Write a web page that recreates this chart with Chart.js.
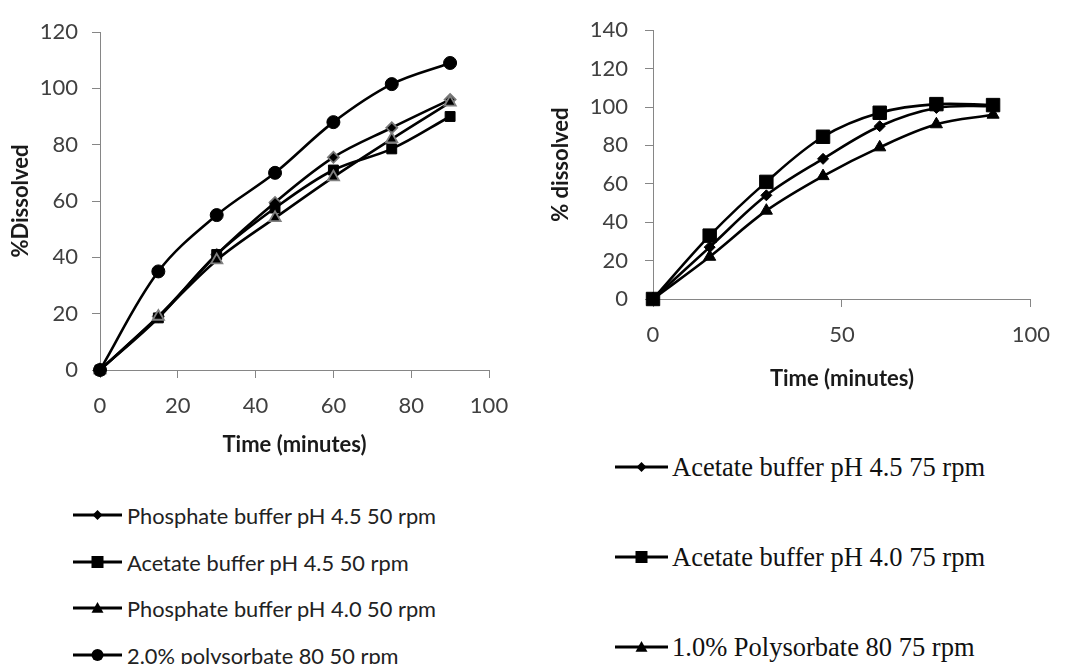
<!DOCTYPE html>
<html>
<head>
<meta charset="utf-8">
<script src="https://cdn.jsdelivr.net/npm/chart.js@4"></script>
<style>
  html, body { margin: 0; padding: 0; background: #fff; overflow: hidden; }
  body { width: 1065px; height: 664px; position: relative; }
  canvas.chart { position: absolute; }
  .legend { position: absolute; }
  .legend .row { position: absolute; white-space: nowrap; display: flex; align-items: center; }
  .legend svg { flex: none; }
  #legendLeft { font-family: Lato, "Open Sans", sans-serif; font-size: 21.8px; color: #222; }
  #legendRight { font-family: "Liberation Serif", "Times New Roman", serif; font-size: 26.5px; color: #111; }
</style>
</head>
<body>
<canvas id="leftChart" class="chart" width="530" height="460" style="left:0;top:0"></canvas>
<canvas id="rightChart" class="chart" width="525" height="400" style="left:540px;top:0"></canvas>
<div id="legendLeft" class="legend"></div>
<div id="legendRight" class="legend"></div>
<script>
// sampling times (minutes)
const times = [0, 15, 30, 45, 60, 75, 90];

// left panel: 50 rpm
const phosphate45At50 = [0, 19, 41, 59.5, 75.5, 86, 96];
const acetate45At50 = [0, 18.5, 41, 57.5, 71, 78.5, 90];
const phosphate40At50 = [0, 19, 39, 54, 68.5, 82, 95];
const polysorbate20At50 = [0, 35, 55, 70, 88, 101.5, 109];

// right panel: 75 rpm
const acetate45At75 = [0, 27, 54, 73, 90, 99.5, 100.5];
const acetate40At75 = [0, 33, 61, 84.5, 97, 101.5, 101];
const polysorbate10At75 = [0, 22, 46, 64, 79, 91, 96];

const leftLabels = ['Phosphate buffer pH 4.5 50 rpm', 'Acetate buffer pH 4.5 50 rpm',
    'Phosphate buffer pH 4.0 50 rpm', '2.0% polysorbate 80 50 rpm'];
const rightLabels = ['Acetate buffer pH 4.5 75 rpm', 'Acetate buffer pH 4.0 75 rpm',
    '1.0% Polysorbate 80 75 rpm'];

const axisGray = '#868686';
const tickColor = '#404040';

function toPoints(values) {
    return values.map((v, i) => ({ x: times[i], y: v }));
}

function makeSeries(label, values, style, radius, border, order) {
    return {
        label: label,
        data: toPoints(values),
        borderColor: '#000',
        borderWidth: 2.6,
        tension: 0.35,
        pointStyle: style,
        pointRadius: radius,
        pointBackgroundColor: '#000',
        pointBorderColor: border,
        pointBorderWidth: border === '#000' ? 1 : 1.8,
        fill: false,
        clip: false,
        order: order
    };
}

function axisOptions(min, max, step, title, titlePad, tickPad, size, fixed) {
    return {
        type: 'linear',
        min: min,
        max: max,
        ticks: { stepSize: step, color: tickColor, padding: tickPad, font: { family: 'Lato', size: size } },
        grid: { display: true, drawOnChartArea: false, drawTicks: true, tickLength: 8, color: axisGray, lineWidth: 1 },
        border: { display: true, color: axisGray, width: 1 },
        title: { display: true, text: title, color: '#1a1a1a', padding: titlePad, font: { family: 'Lato', size: 22, weight: 'bold' } },
        afterFit: fixed
    };
}

const leftChart = new Chart(document.getElementById('leftChart').getContext('2d'), {
    type: 'line',
    data: {
        datasets: [
            makeSeries(leftLabels[0], phosphate45At50, 'rectRot', 5.5, '#777', 3),
            makeSeries(leftLabels[1], acetate45At50, 'rect', 7, '#000', 2),
            makeSeries(leftLabels[2], phosphate40At50, 'triangle', 6.5, '#808080', 1),
            makeSeries(leftLabels[3], polysorbate20At50, 'circle', 6.5, '#000', 0)
        ]
    },
    options: {
        responsive: false,
        devicePixelRatio: 1,
        animation: false,
        layout: { padding: { left: 0, top: 32, right: 41, bottom: 0 } },
        plugins: { legend: { display: false }, tooltip: { enabled: false } },
        scales: {
            x: axisOptions(0, 100, 20, 'Time (minutes)', { top: 4, bottom: 2 }, 15, 22, s => { s.height = 90; }),
            y: axisOptions(0, 120, 20, '%Dissolved', { top: 8, bottom: 4 }, 14, 22, s => { s.width = 100; })
        }
    }
});

const rightChart = new Chart(document.getElementById('rightChart').getContext('2d'), {
    type: 'line',
    data: {
        datasets: [
            makeSeries(rightLabels[0], acetate45At75, 'rectRot', 5.5, '#000', 2),
            makeSeries(rightLabels[1], acetate40At75, 'rect', 9.5, '#000', 1),
            makeSeries(rightLabels[2], polysorbate10At75, 'triangle', 7, '#000', 0)
        ]
    },
    options: {
        responsive: false,
        devicePixelRatio: 1,
        animation: false,
        layout: { padding: { left: 0, top: 24, right: 23, bottom: 0 } },
        plugins: { legend: { display: false }, tooltip: { enabled: false } },
        scales: {
            x: axisOptions(0, 100, 50, 'Time (minutes)', { top: 4, bottom: 8 }, 15, 22, s => { s.height = 101; }),
            y: axisOptions(0, 140, 20, '% dissolved', { top: 8, bottom: 4 }, 17, 22, s => { s.width = 113; })
        }
    }
});

// legends drawn as html rows with a small line + marker glyph
function markerSvg(style, w, size) {
    const h = 20, cy = 10, cx = w / 2;
    let shape = '';
    if (style === 'rectRot') {
        shape = `<polygon points="${cx},${cy - size} ${cx + size},${cy} ${cx},${cy + size} ${cx - size},${cy}" fill="#000"/>`;
    } else if (style === 'rect') {
        shape = `<rect x="${cx - size}" y="${cy - size}" width="${2 * size}" height="${2 * size}" fill="#000"/>`;
    } else if (style === 'triangle') {
        shape = `<polygon points="${cx},${cy - size} ${cx + size},${cy + size * 0.8} ${cx - size},${cy + size * 0.8}" fill="#000"/>`;
    } else {
        shape = `<circle cx="${cx}" cy="${cy}" r="${size}" fill="#000"/>`;
    }
    return `<svg width="${w}" height="${h}"><line x1="0" y1="${cy}" x2="${w}" y2="${cy}" stroke="#000" stroke-width="3"/>${shape}</svg>`;
}

function buildLegend(id, labels, styles, sizes, left, rowsY, w, gap) {
    const box = document.getElementById(id);
    labels.forEach((label, i) => {
        const row = document.createElement('div');
        row.className = 'row';
        row.style.left = left + 'px';
        row.style.top = (rowsY[i] - 15) + 'px';
        row.style.height = '30px';
        row.innerHTML = markerSvg(styles[i], w, sizes[i]) + `<span style="margin-left:${gap}px">${label}</span>`;
        box.appendChild(row);
    });
}

buildLegend('legendLeft', leftLabels, ['rectRot', 'rect', 'triangle', 'circle'], [5, 6, 6, 6],
    73, [515, 562, 608, 655], 49, 5);
buildLegend('legendRight', rightLabels, ['rectRot', 'rect', 'triangle'], [5, 6, 6],
    615, [467, 557, 647], 53, 4);
</script>
</body>
</html>
